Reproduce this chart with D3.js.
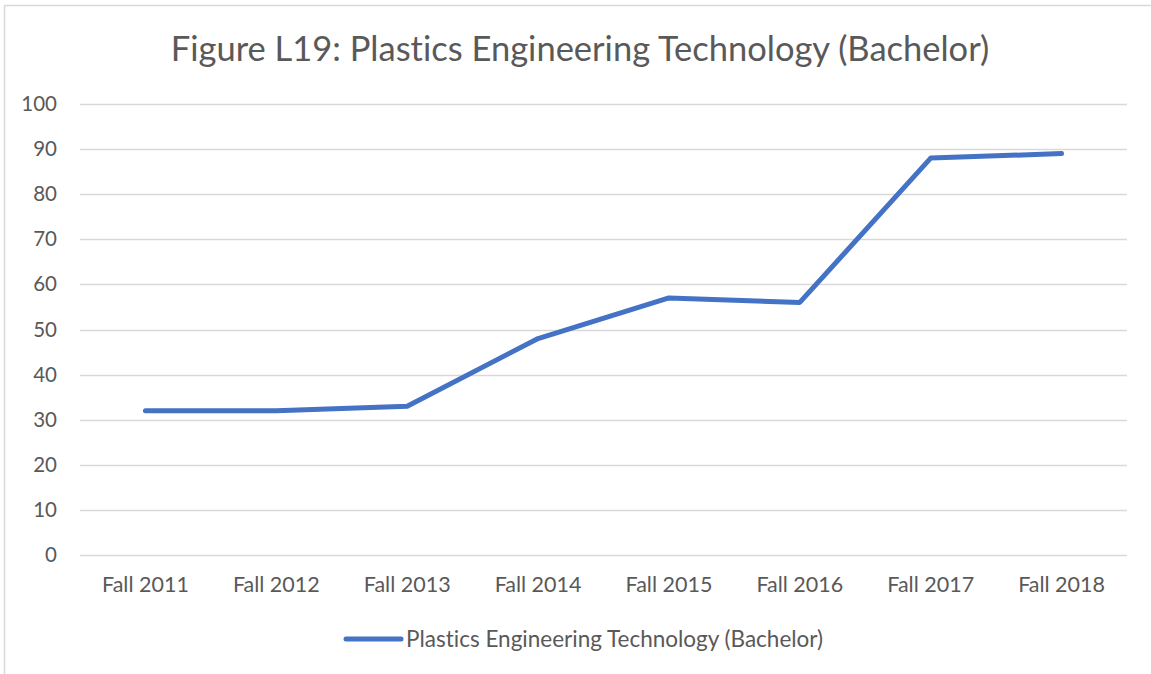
<!DOCTYPE html>
<html>
<head>
<meta charset="utf-8">
<script src="https://cdn.jsdelivr.net/npm/d3@7"></script>
<style>
    body { margin: 0; background: #fff; }
    svg text { font-family: Lato, "Open Sans", sans-serif; fill: #595959; font-variant-ligatures: none; }
</style>
</head>
<body>
<svg id="chart" width="1151" height="674"></svg>
<script>
// chart data
const categories = ["Fall 2011", "Fall 2012", "Fall 2013", "Fall 2014", "Fall 2015", "Fall 2016", "Fall 2017", "Fall 2018"];
const values = [32, 32, 33, 48, 57, 56, 88, 89];
const yTicks = [0, 10, 20, 30, 40, 50, 60, 70, 80, 90, 100];
const seriesName = "Plastics Engineering Technology (Bachelor)";
const title = "Figure L19: Plastics Engineering Technology (Bachelor)";

// plot area
const margin = {top: 104, right: 24, bottom: 119, left: 80},
    width = 1151 - margin.left - margin.right,
    height = 674 - margin.top - margin.bottom;

const svg = d3.select("#chart");

// chart border (only left and top visible in the picture)
svg.append("rect")
    .attr("x", 4.5)
    .attr("y", 5.5)
    .attr("width", 1160)
    .attr("height", 700)
    .attr("fill", "none")
    .attr("stroke", "#d9d9d9")
    .attr("stroke-width", 1.5);

svg.append("text")
    .attr("x", 580)
    .attr("y", 61)
    .attr("text-anchor", "middle")
    .style("font-size", "34.5px")
    .text(title);

const g = svg.append("g")
    .attr("transform", "translate(" + margin.left + "," + margin.top + ")");

// scales
const x = d3.scaleBand()
    .domain(categories)
    .range([0, width]);

const y = d3.scaleLinear()
    .domain([0, 100])
    .range([height, 0]);

// gridlines
g.selectAll(".grid")
    .data(yTicks)
    .enter().append("line")
    .attr("class", "grid")
    .attr("x1", 0)
    .attr("x2", width)
    .attr("y1", function(d) { return Math.round(y(d)) + 0.5; })
    .attr("y2", function(d) { return Math.round(y(d)) + 0.5; })
    .attr("stroke", "#d9d9d9")
    .attr("stroke-width", 1.5);

// y axis labels
const yAxis = g.append("g")
    .call(d3.axisLeft(y).tickValues(yTicks).tickSize(0).tickPadding(23));
yAxis.select(".domain").remove();
yAxis.selectAll("text")
    .style("font-size", "20.5px")
    .attr("fill", "#595959");

// x axis labels
const xAxis = g.append("g")
    .attr("transform", "translate(0," + height + ")")
    .call(d3.axisBottom(x).tickSize(0).tickPadding(22));
xAxis.select(".domain").remove();
xAxis.selectAll("text")
    .style("font-size", "21.5px")
    .attr("fill", "#595959");

// the line
const line = d3.line()
    .x(function(d, i) { return x(categories[i]) + x.bandwidth() / 2; })
    .y(function(d) { return y(d); });

g.append("path")
    .datum(values)
    .attr("d", line)
    .attr("fill", "none")
    .attr("stroke", "#4472c4")
    .attr("stroke-width", 5)
    .attr("stroke-linejoin", "round")
    .attr("stroke-linecap", "round");

// legend
const legend = svg.append("g")
    .attr("transform", "translate(346,639)");
legend.append("line")
    .attr("x1", 0)
    .attr("x2", 55)
    .attr("stroke", "#4472c4")
    .attr("stroke-width", 5)
    .attr("stroke-linecap", "round");
legend.append("text")
    .attr("x", 60)
    .attr("dy", "0.35em")
    .style("font-size", "22.5px")
    .text(seriesName);
</script>
</body>
</html>
